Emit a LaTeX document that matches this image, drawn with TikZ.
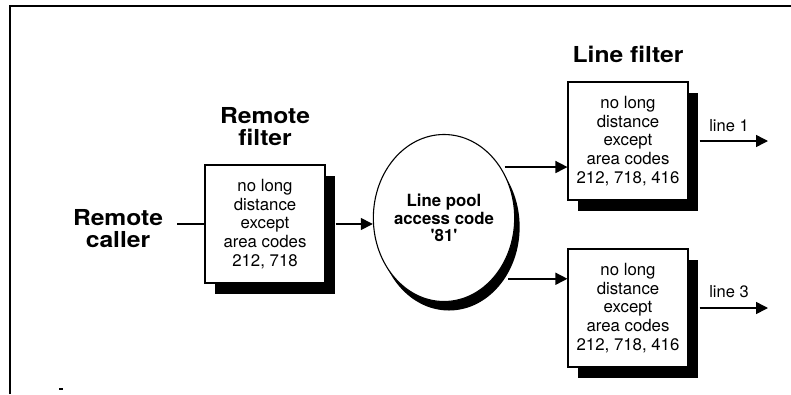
\documentclass[tikz,border=0pt]{standalone}
\usepackage{fontspec}
\setmainfont{TeX Gyre Heros}
\newfontfamily\headfont[FakeStretch=1.12]{TeX Gyre Heros}
\usetikzlibrary{arrows.meta, shapes.geometric, shadows}
\tikzset{
  filterbox/.style={
    draw, line width=1.1pt, fill=white, align=center,
    minimum width=120pt, minimum height=118pt, inner sep=0pt,
    font=\fontsize{16.8}{18.6}\selectfont,
    drop shadow={shadow xshift=10pt, shadow yshift=-11pt, fill=black, opacity=1}
  },
  poolellipse/.style={
    ellipse, draw, line width=1.1pt, fill=white, align=center,
    minimum width=116pt, minimum height=167pt, inner sep=0pt,
    font=\bfseries\fontsize{16.8}{17.8}\selectfont,
    drop shadow={shadow xshift=5pt, shadow yshift=-9pt, fill=black, opacity=1}
  },
  flowarrow/.style={
    -{Triangle[length=12pt, width=12pt]}, line width=1.5pt
  },
  headlabel/.style={
    font=\headfont\bfseries\fontsize{22}{22}\selectfont, align=center, inner sep=0pt
  },
  linelabel/.style={
    font=\fontsize{16.5}{18}\selectfont, inner sep=0pt
  },
}

\begin{document}
\begin{tikzpicture}[x=1pt, y=-1pt]
  \useasboundingbox (0,0) rectangle (791,394);

  % === Frame ===
  \draw[line width=1.2pt] (10,394) -- (10,6) -- (791,6);
  \fill (59,387.5) rectangle (63,389.5);

  % === Remote side ===
  \node[headlabel, inner xsep=14pt] (remote_caller) at (118, 229) {Remote\\caller};
  \node[headlabel] (remote_filter_title) at (265, 127) {Remote\\filter};
  \node[filterbox] (remote_filter) at (265, 224)
    {no long\\distance\\except\\area codes\\212, 718};

  % === Line pool ===
  \node[poolellipse] (line_pool) at (444, 218)
    {Line pool\\access code\\\textquotesingle81\textquotesingle};

  % === Line filters ===
  \node[headlabel] (line_filter_title) at (628, 54) {Line filter};
  \node[filterbox] (line_filter1) at (628, 141)
    {no long\\distance\\except\\area codes\\212, 718, 416};
  \node[filterbox] (line_filter3) at (628, 308)
    {no long\\distance\\except\\area codes\\212, 718, 416};

  % outgoing lines
  \coordinate (line1_end) at (768, 141);
  \coordinate (line3_end) at (768, 308);
  \node[linelabel] (line1_label) at (729, 126) {line 1};
  \node[linelabel] (line3_label) at (729, 292) {line 3};

  % === Connectors ===
  \draw[line width=1.5pt] (remote_caller.east |- remote_filter.west) -- (remote_filter.west);
  \draw[flowarrow] ([xshift=10pt]remote_filter.east) -- (line_pool.west |- remote_filter.east);
  \draw[flowarrow] ([xshift=4pt]line_pool.42) -- (line_pool.42 -| line_filter1.west);
  \draw[flowarrow] ([xshift=15pt]line_pool.-51) -- (line_pool.-51 -| line_filter3.west);
  \draw[flowarrow] ([xshift=11pt]line_filter1.east) -- (line1_end);
  \draw[flowarrow] ([xshift=11pt]line_filter3.east) -- (line3_end);

\end{tikzpicture}
\end{document}
